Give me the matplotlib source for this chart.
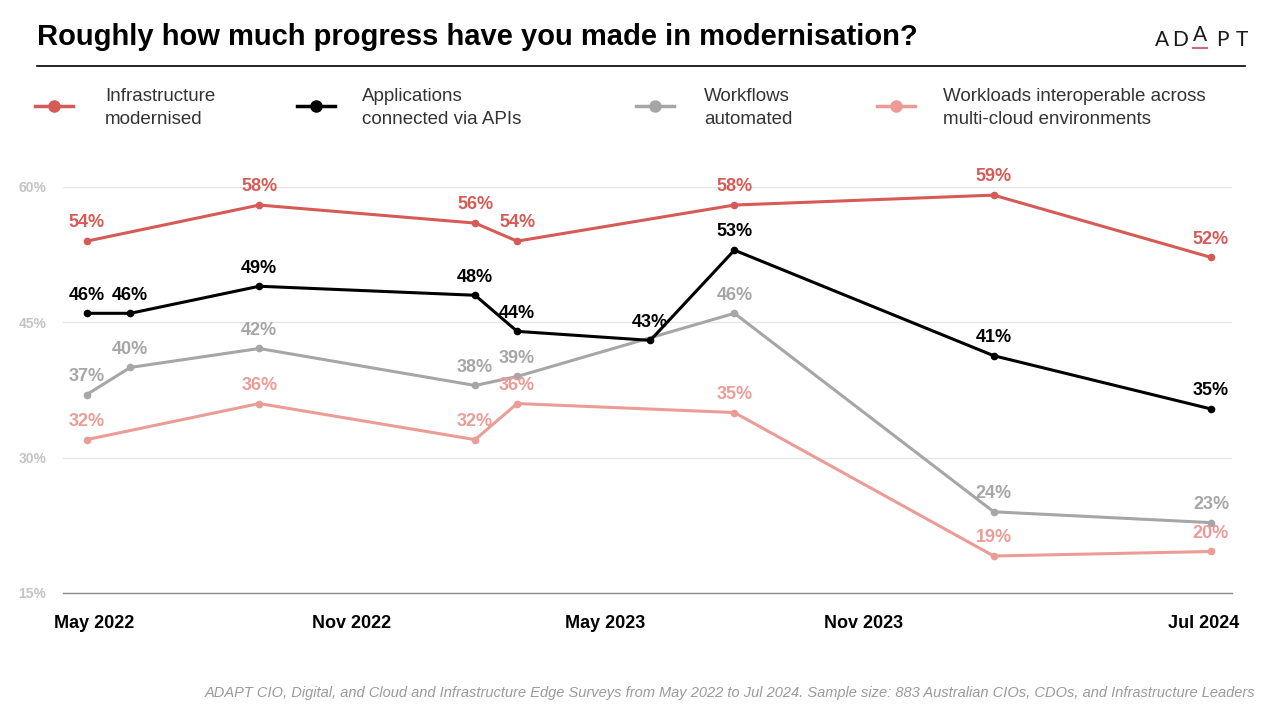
import matplotlib.pyplot as plt
import matplotlib.dates as mdates
from matplotlib.lines import Line2D
import numpy as np, pandas as pd

plt.rcParams['font.family'] = ['Liberation Sans', 'DejaVu Sans']

# survey dates
survey_dates = pd.to_datetime(["2022-04-26", "2022-05-27", "2022-08-27", "2023-01-28", "2023-02-27",
                               "2023-06-02", "2023-08-01", "2024-02-02", "2024-07-06"])

# NaN where a series has no survey at that date
infrastructure = [54, np.nan, 58, 56, 54, np.nan, 58, 59.1, 52.2]
applications = [46, 46, 49, 48, 44, 43, 53, 41.3, 35.4]
workflows = [37, 40, 42.1, 38, 39, np.nan, 46, 24, 22.8]
workloads = [32, np.nan, 36, 32, 36, np.nan, 35, 19.1, 19.6]

series_labels = ["Infrastructure\nmodernised", "Applications\nconnected via APIs",
                 "Workflows\nautomated", "Workloads interoperable across\nmulti-cloud environments"]
series_colors = ["#D65A55", "#000000", "#A6A6A6", "#EC9C97"]

tick_dates = pd.to_datetime(["2022-05-01", "2022-11-01", "2023-05-01", "2023-11-01", "2024-07-01"])
tick_labels = ["May 2022", "Nov 2022", "May 2023", "Nov 2023", "Jul 2024"]

title = "Roughly how much progress have you made in modernisation?"
source = ("ADAPT CIO, Digital, and Cloud and Infrastructure Edge Surveys from May 2022 to Jul 2024. "
          "Sample size: 883 Australian CIOs, CDOs, and Infrastructure Leaders")


def px(x, y):
    # pixel position -> figure fraction
    return x / 1280, 1 - y / 720


def main():
    fig = plt.figure(figsize=(12.8, 7.2), dpi=100)
    ax = fig.add_axes([63 / 1280, 1 - 593 / 720, (1232 - 63) / 1280, (593 - 187) / 720])

    all_series = [infrastructure, applications, workflows, workloads]
    # draw back to front so black / red sit on top
    for values, color, z in zip(all_series, series_colors, [4, 5, 3, 2]):
        vals = np.array(values, dtype=float)
        mask = ~np.isnan(vals)
        ax.plot(survey_dates[mask], vals[mask], color=color, lw=2.2, marker='o', ms=4.5,
                zorder=z, solid_joinstyle='round')
        for d, v in zip(survey_dates[mask], vals[mask]):
            ax.annotate(f"{round(v):d}%", (d, v), xytext=(0, 7), textcoords='offset points',
                        ha='center', va='bottom', fontsize=13, fontweight='bold', color=color,
                        zorder=6, annotation_clip=False)

    ax.set_ylim(15, 60)
    ax.set_xlim(pd.Timestamp("2022-04-09"), pd.Timestamp("2024-07-21"))
    ax.set_yticks([15, 30, 45, 60])
    ax.set_yticklabels(["15%", "30%", "45%", "60%"])
    ax.set_xticks(tick_dates)
    ax.set_xticklabels(tick_labels)
    ax.tick_params(axis='y', length=0, pad=12, labelsize=10, labelcolor="#C4C4C4")
    ax.tick_params(axis='x', length=0, pad=16, labelsize=13)
    for lab in ax.get_yticklabels() + ax.get_xticklabels():
        lab.set_fontweight('bold')
    ax.grid(axis='y', color="#E6E6E6", lw=1)
    ax.set_axisbelow(True)
    for s in ['top', 'right', 'left']:
        ax.spines[s].set_visible(False)
    ax.spines['bottom'].set_color("#8C8C8C")
    ax.spines['bottom'].set_linewidth(1)

    # title and rule
    fig.text(*px(37, 37), title, fontsize=21, fontweight='bold', va='center', ha='left')
    fig.add_artist(Line2D([37 / 1280, 1245 / 1280], [1 - 66 / 720] * 2, color='black', lw=1.2))

    # logo
    for letter, x, y in zip("ADAPT", [1162, 1180, 1200, 1222, 1242], [40, 40, 35, 40, 40]):
        fig.text(*px(x, y), letter, fontsize=15, ha='center', va='center', color="#1A1A1A",
                 family=['Lato', 'DejaVu Sans'])
    fig.add_artist(Line2D([1193 / 1280, 1207 / 1280], [1 - 48 / 720] * 2, color="#C96A78", lw=1.5))

    # legend
    for label, color, lx, tx in zip(series_labels, series_colors, [35, 297, 636, 877], [105, 362, 704, 943]):
        fig.add_artist(Line2D([lx / 1280, (lx + 38) / 1280], [1 - 106 / 720] * 2, color=color, lw=2.5))
        fig.add_artist(Line2D([(lx + 19) / 1280], [1 - 106 / 720], color=color, marker='o', ms=8))
        fig.text(*px(tx, 108), label, fontsize=13.5, color="#333333", va='center', ha='left',
                 multialignment='left', linespacing=1.45)

    fig.text(*px(1255, 693), source, fontsize=10.5, style='italic', color="#9A9A9A", ha='right', va='center')

    fig.savefig("out.png", dpi=100, facecolor='white')


if __name__ == "__main__":
    main()
